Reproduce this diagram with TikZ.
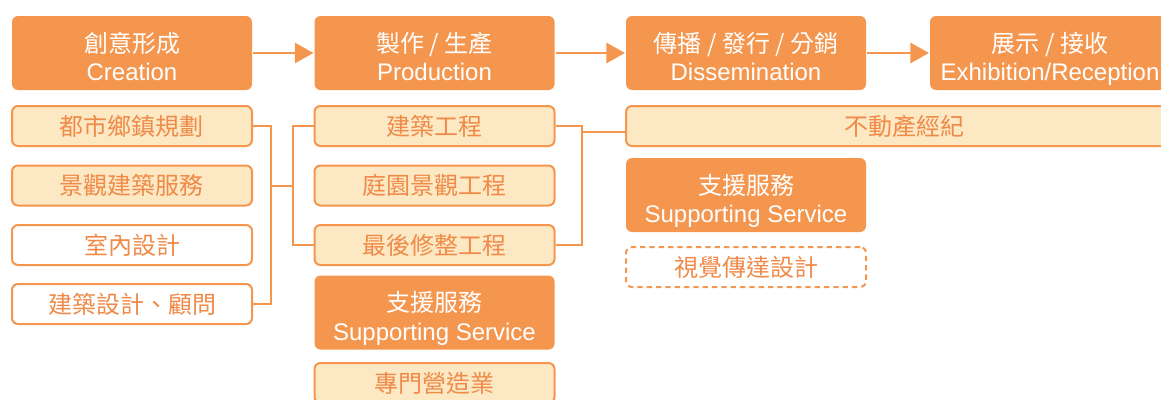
\documentclass[tikz,border=0pt]{standalone}
\usepackage{fontspec}
\setmainfont{Liberation Sans}
\newfontfamily\cjk{Noto Sans CJK TC}
\usetikzlibrary{arrows.meta,calc}
\definecolor{brand}{HTML}{F5964F}
\definecolor{brandtext}{HTML}{F08A48}
\definecolor{cream}{HTML}{FCE8C3}
% Two-line stage label; the rules keep both baselines at the same place.
\newcommand{\twoline}[2]{\rule{0pt}{24.1pt}{\cjk #1}\\[3.4pt]#2\rule[-4pt]{0pt}{0pt}}

\begin{document}
\begin{tikzpicture}[x=0.75pt,y=-0.75pt,
  every node/.style={inner sep=0pt,align=center},
  box/.style={minimum width=180pt,rounded corners=4.5pt,line width=1.5pt},
  stage/.style={box,minimum height=55.5pt,fill=brand,text=white,
    font=\fontsize{18}{18}\selectfont},
  item/.style={box,minimum height=30pt,draw=brand,fill=cream,text=brandtext,
    font=\cjk\fontsize{18}{21}\selectfont},
  plain/.style={item,fill=white},
  maybe/.style={item,fill=white,dash pattern=on 4pt off 3pt},
  flow/.style={-{Triangle[length=14pt,width=15pt]},line width=2.2pt,draw=brand},
  link/.style={line width=1.5pt,draw=brand}]

\useasboundingbox (0,0) rectangle (1161,400);

% Column centres, in pixels of the 1161 x 400 layout.
\def\ca{132}
\def\cb{434.5}
\def\cc{746}
\def\cd{1050}

% -------------------------------------------------------------------------
% Value chain stages.
% -------------------------------------------------------------------------
\node[stage] (s1) at (\ca,53) {\twoline{創意形成}{Creation}};
\node[stage] (s2) at (\cb,53) {\twoline{製作 / 生產}{Production}};
\node[stage] (s3) at (\cc,53) {\twoline{傳播 / 發行 / 分銷}{Dissemination}};
\node[stage] (s4) at (\cd,53) {\twoline{展示 / 接收}{Exhibition/Reception}};
\draw[flow] (s1) -- (s2);
\draw[flow] (s2) -- (s3);
\draw[flow] (s3) -- (s4);

% -------------------------------------------------------------------------
% Creation.
% -------------------------------------------------------------------------
\node[item]  (c1) at (\ca,126)   {都市鄉鎮規劃};
\node[item]  (c2) at (\ca,185.5) {景觀建築服務};
\node[plain] (c3) at (\ca,245)   {室內設計};
\node[plain] (c4) at (\ca,304)   {建築設計、顧問};

% -------------------------------------------------------------------------
% Production.
% -------------------------------------------------------------------------
\node[item]  (p1) at (\cb,126)   {建築工程};
\node[item]  (p2) at (\cb,185.5) {庭園景觀工程};
\node[item]  (p3) at (\cb,245)   {最後修整工程};
\node[stage] (p4) at (\cb,312.5) {\twoline{支援服務}{Supporting Service}};
\node[item]  (p5) at (\cb,383)   {專門營造業};

% -------------------------------------------------------------------------
% Dissemination.
% -------------------------------------------------------------------------
\node[item,minimum width=417pt] (d1) at (904,126) {不動產經紀};
\node[stage] (d2) at (\cc,195) {\twoline{支援服務}{Supporting Service}};
\node[maybe] (d3) at (\cc,267) {視覺傳達設計};

% Brackets between the columns.
\draw[link] (c1.east) -- ++(18,0) coordinate (lb) |- (c4.east);
\draw[link] (p1.west) -- ++(-21,0) coordinate (mb) |- (p3.west);
\draw[link] (c2.east -| lb) -- (c2.east -| mb);
\draw[link] (p1.east) -- ++(26,0) coordinate (rb) |- (p3.east);
\coordinate (rj) at ($(d1.west)+(0,6)$);
\draw[link] (rj -| rb) -- (rj);
\end{tikzpicture}
\end{document}
